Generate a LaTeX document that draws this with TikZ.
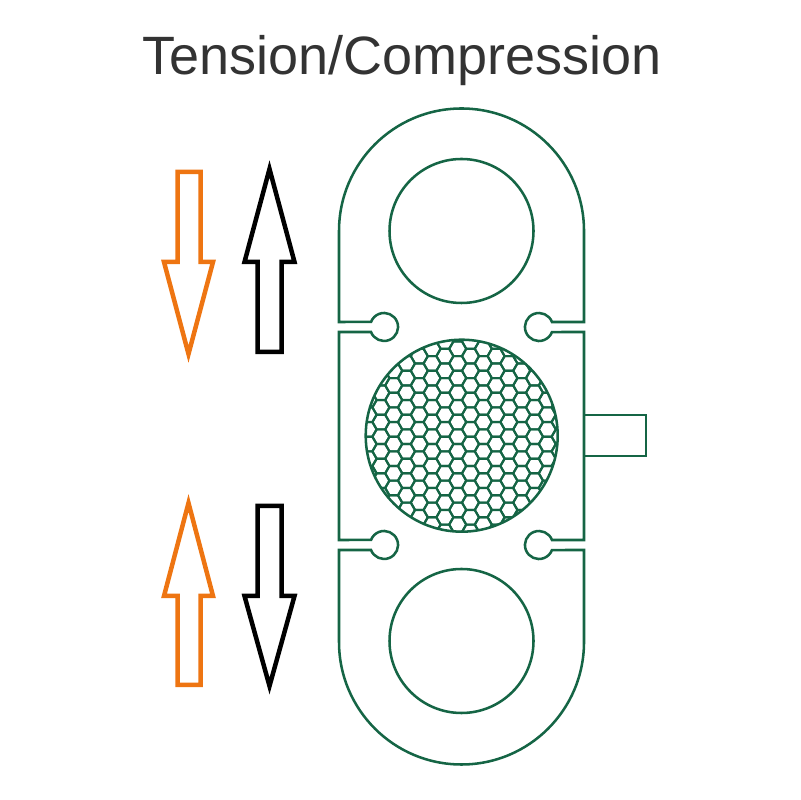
\documentclass[tikz,border=0pt]{standalone}
\usepackage{fontspec}
\setmainfont{Liberation Sans}
\definecolor{bodygreen}{HTML}{156545}
\definecolor{pushorange}{HTML}{EE7512}
\definecolor{titlegray}{HTML}{333333}
\tikzset{
	bodyline/.style={draw=bodygreen,line width=1.8pt},
	hexline/.style={draw=bodygreen,line width=1.5pt},
	forcearrow/.style={line width=3.2pt,miter limit=20}
}
\begin{document}
\begin{tikzpicture}[x=0.025cm,y=0.025cm]
	\useasboundingbox (0,0) rectangle (800,800);
	\node[text=titlegray,font=\fontsize{38.4}{38.4}\selectfont] (title) at (402,739) {Tension/Compression};
	% force arrows
	\draw[forcearrow,draw=pushorange] (177.5,628) -- (200.5,628) -- (200.5,538) -- (213,538) -- (188.5,446) -- (164,538) -- (177.5,538) -- cycle;
	\draw[forcearrow,draw=black] (257.5,448) -- (281.5,448) -- (281.5,538) -- (294.5,538) -- (269.5,631) -- (244.5,538) -- (257.5,538) -- cycle;
	\draw[forcearrow,draw=pushorange] (177.5,115) -- (200.5,115) -- (200.5,204) -- (213,204) -- (188.5,297) -- (164,204) -- (177.5,204) -- cycle;
	\draw[forcearrow,draw=black] (257.5,294) -- (281.5,294) -- (281.5,204) -- (294.5,204) -- (269.5,114) -- (244.5,204) -- (257.5,204) -- cycle;
	% outline with the four relief holes
	\draw[bodyline] (339,478) -- (339,569) arc[start angle=180,end angle=0,radius=122.5] -- (584,478) -- (552,478)
		arc[start angle=21,end angle=339,radius=14] -- (584,468) -- (584,260) -- (552,260)
		arc[start angle=21,end angle=339,radius=14] -- (584,250) -- (584,158) arc[start angle=0,end angle=-180,radius=122.5] -- (339,250) -- (371,250)
		arc[start angle=201,end angle=519,radius=14] -- (339,260) -- (339,468) -- (371,468)
		arc[start angle=201,end angle=519,radius=14] -- cycle;
	\draw[bodyline] (461.5,569) circle[radius=72];
	\draw[bodyline] (461.5,159) circle[radius=72];
	\draw[bodyline] (584.5,385) -- (646,385) -- (646,344) -- (584.5,344);
	% strain gauge grid
	\begin{scope}
		\clip (461.7,364.3) circle[radius=96];
		\foreach \col in {-9,...,9} {
			\foreach \row in {-8,...,8} {
				\pgfmathsetmacro{\hexx}{457.7+12.8*\col}
				\pgfmathsetmacro{\hexy}{363.3+14.65*\row+7.325*mod(abs(\col),2)}
				\draw[hexline,shift={(\hexx,\hexy)}] (0:8.5) -- (60:8.5) -- (120:8.5) -- (180:8.5) -- (240:8.5) -- (300:8.5) -- cycle;
			}
		}
	\end{scope}
	\draw[bodyline] (461.7,364.3) circle[radius=96];
\end{tikzpicture}
\end{document}
